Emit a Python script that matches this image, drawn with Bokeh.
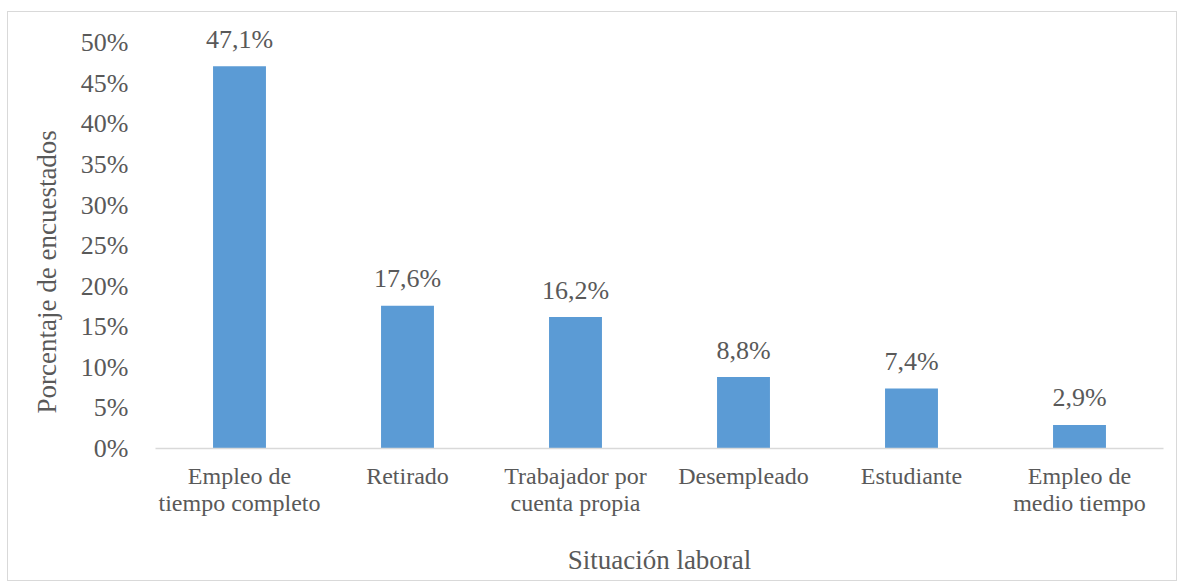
from bokeh.plotting import figure
from bokeh.models import ColumnDataSource, FixedTicker, NumeralTickFormatter, FactorRange, Range1d, Title
from bokeh.core.properties import value
from bokeh.embed import file_html
from bokeh.resources import INLINE

categories = ["Empleo de\ntiempo completo", "Retirado", "Trabajador por\ncuenta propia",
              "Desempleado", "Estudiante", "Empleo de\nmedio tiempo"]
values = [0.471, 0.176, 0.162, 0.088, 0.074, 0.029]
labels = ["47,1%", "17,6%", "16,2%", "8,8%", "7,4%", "2,9%"]
y_ticks = [0, 0.05, 0.10, 0.15, 0.20, 0.25, 0.30, 0.35, 0.40, 0.45, 0.50]
x_title = "Situación laboral"
y_title = "Porcentaje de encuestados"

FONT = "'Liberation Serif', serif"
TXT = "#595959"

src = ColumnDataSource(dict(cat=categories, val=values, lab=labels))

p = figure(x_range=FactorRange(factors=categories, range_padding=0),
           y_range=Range1d(0, 0.53),
           width=1170, height=570, output_backend="svg", toolbar_location=None,
           min_border_left=147, min_border_right=15, min_border_top=6, min_border_bottom=134)
p.styles = {"border": "1px solid #d9d9d9", "margin-left": "7px", "margin-top": "11px"}
p.outline_line_color = None
p.xgrid.grid_line_color = None
p.ygrid.grid_line_color = None

p.vbar(x="cat", top="val", width=0.315, source=src, fill_color="#5B9BD5", line_color=None)
p.text(x="cat", y="val", text="lab", source=src, text_align="center", text_baseline="alphabetic",
       y_offset=-27, text_font=value(FONT), text_font_size="26px", text_color=TXT)

p.yaxis.ticker = FixedTicker(ticks=y_ticks)
p.yaxis.formatter = NumeralTickFormatter(format="0%")
p.yaxis.axis_line_color = None
p.yaxis.major_tick_line_color = None
p.yaxis.minor_tick_line_color = None
p.yaxis.major_label_standoff = 21
p.yaxis.major_label_text_font = FONT
p.yaxis.major_label_text_font_size = "26px"
p.yaxis.major_label_text_color = TXT

p.xaxis.axis_line_color = "#D9D9D9"
p.xaxis.axis_line_width = 1.5
p.xaxis.major_tick_line_color = None
p.xaxis.minor_tick_line_color = None
p.xaxis.major_label_standoff = 8
p.xaxis.major_label_text_font = FONT
p.xaxis.major_label_text_font_size = "24px"
p.xaxis.major_label_text_line_height = 1.05
p.xaxis.major_label_text_color = TXT
p.xaxis.axis_label = x_title
p.xaxis.axis_label_text_font = FONT
p.xaxis.axis_label_text_font_size = "27px"
p.xaxis.axis_label_text_font_style = "normal"
p.xaxis.axis_label_text_color = TXT
p.xaxis.axis_label_standoff = 26

p.add_layout(Title(text=y_title, align="left", offset=35, standoff=32,
                   text_font=FONT, text_font_size="27px", text_font_style="normal",
                   text_color=TXT), "left")

open("out.html", "w").write(file_html(p, INLINE))
